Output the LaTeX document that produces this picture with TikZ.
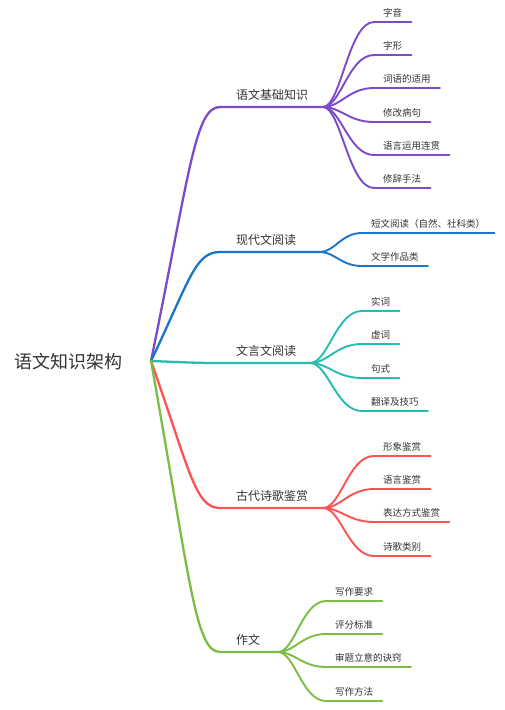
\documentclass[tikz,border=0pt]{standalone}
\usepackage{fontspec}
\setmainfont{Noto Sans CJK SC}
\usetikzlibrary{calc}
\definecolor{cpur}{HTML}{7B4BC9}
\definecolor{cblu}{HTML}{1976C8}
\definecolor{ctea}{HTML}{25BDB2}
\definecolor{cred}{HTML}{FF5252}
\definecolor{cgrn}{HTML}{7DBD45}
\definecolor{ctxt}{HTML}{333333}
\begin{document}
\begin{tikzpicture}[x=1pt,y=-1pt,
  rootlbl/.style={font=\fontsize{18}{20}\selectfont, text=ctxt, anchor=west, inner sep=0pt},
  mainlbl/.style={font=\fontsize{12}{14}\selectfont, text=ctxt, anchor=south west, inner xsep=0pt, inner ysep=6pt},
  sublbl/.style={font=\fontsize{9.5}{11}\selectfont, text=ctxt, anchor=south west, inner xsep=9pt, inner ysep=4.6pt},
  mainline/.style={line width=2.3pt, line cap=round},
  subline/.style={line width=1.9pt, line cap=round},
  bigcurve/.style={to path={let \p1=(\tikztostart), \p2=(\tikztotarget) in
     .. controls ({\x1+0.565*(\x2-\x1)},{\y1+0.75*(\y2-\y1)}) and ({\x1+0.64*(\x2-\x1)},\y2) .. (\tikztotarget)}},
  smallcurve/.style={to path={let \p1=(\tikztostart), \p2=(\tikztotarget) in
     .. controls ({\x1+0.35*(\x2-\x1)},\y1) and ({\x1+0.5*(\x2-\x1)},\y2) .. (\tikztotarget)}},
]
\useasboundingbox (0,0) rectangle (504,710);
\fill[white] (0,0) rectangle (504,710);

\node[rootlbl] (root) at (14,362) {语文知识架构};
\coordinate (r) at (151,361);

% ---- branch 1 (purple)
\node[mainlbl] (m1) at (236,107) {语文基础知识};
\coordinate (m1s) at (220,107);
\coordinate (m1e) at (323,107);
\draw[mainline,cpur] (r) to[bigcurve] (m1s) -- (m1e);
\node[sublbl] (a1) at (374,22) {字音};
\node[sublbl] (a2) at (374,55) {字形};
\node[sublbl] (a3) at (374,88) {词语的适用};
\node[sublbl] (a4) at (374,122) {修改病句};
\node[sublbl] (a5) at (374,155) {语言运用连贯};
\node[sublbl] (a6) at (374,188) {修辞手法};
\foreach \k in {a1,a2,a3,a4,a5,a6}
  \draw[subline,cpur] (m1e) to[smallcurve] (\k.south west) -- (\k.south east);

% ---- branch 2 (blue)
\node[mainlbl] (m2) at (236,252) {现代文阅读};
\coordinate (m2s) at (220,252);
\coordinate (m2e) at (320,252);
\draw[mainline,cblu] (r) to[bigcurve] (m2s) -- (m2e);
\node[sublbl] (b1) at (362,233) {短文阅读（自然、社科类）};
\node[sublbl] (b2) at (362,266) {文学作品类};
\foreach \k in {b1,b2}
  \draw[subline,cblu] (m2e) to[smallcurve] (\k.south west) -- (\k.south east);

% ---- branch 3 (teal)
\node[mainlbl] (m3) at (236,363) {文言文阅读};
\coordinate (m3s) at (220,363);
\coordinate (m3e) at (310,363);
\draw[mainline,ctea] (r) to[bigcurve] (m3s) -- (m3e);
\node[sublbl] (c1) at (362,311) {实词};
\node[sublbl] (c2) at (362,344) {虚词};
\node[sublbl] (c3) at (362,378) {句式};
\node[sublbl] (c4) at (362,411) {翻译及技巧};
\foreach \k in {c1,c2,c3,c4}
  \draw[subline,ctea] (m3e) to[smallcurve] (\k.south west) -- (\k.south east);

% ---- branch 4 (red)
\node[mainlbl] (m4) at (236,508) {古代诗歌鉴赏};
\coordinate (m4s) at (220,508);
\coordinate (m4e) at (323,508);
\draw[mainline,cred] (r) to[bigcurve] (m4s) -- (m4e);
\node[sublbl] (d1) at (374,456) {形象鉴赏};
\node[sublbl] (d2) at (374,489) {语言鉴赏};
\node[sublbl] (d3) at (374,522) {表达方式鉴赏};
\node[sublbl] (d4) at (374,556) {诗歌类别};
\foreach \k in {d1,d2,d3,d4}
  \draw[subline,cred] (m4e) to[smallcurve] (\k.south west) -- (\k.south east);

% ---- branch 5 (green)
\node[mainlbl] (m5) at (236,652) {作文};
\coordinate (m5s) at (220,652);
\coordinate (m5e) at (278,652);
\draw[mainline,cgrn] (r) to[bigcurve] (m5s) -- (m5e);
\node[sublbl] (e1) at (326,601) {写作要求};
\node[sublbl] (e2) at (326,634) {评分标准};
\node[sublbl] (e3) at (326,667) {审题立意的诀窍};
\node[sublbl] (e4) at (326,701) {写作方法};
\foreach \k in {e1,e2,e3,e4}
  \draw[subline,cgrn] (m5e) to[smallcurve] (\k.south west) -- (\k.south east);
\end{tikzpicture}
\end{document}
